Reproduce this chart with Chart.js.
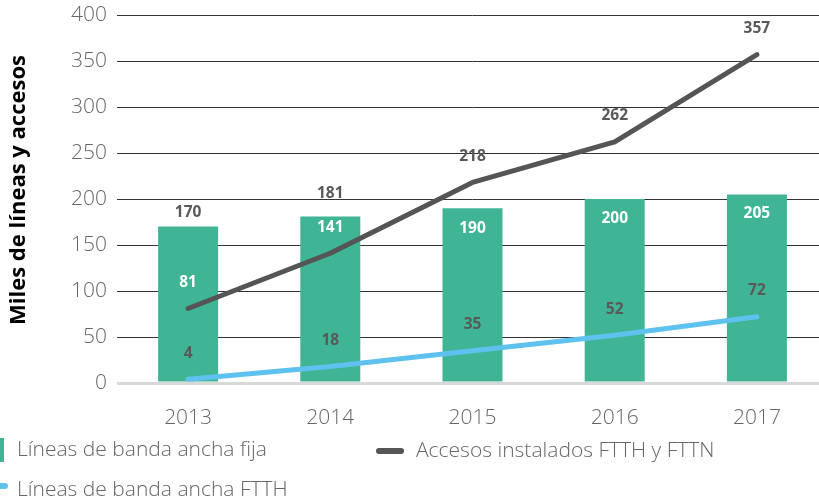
<!DOCTYPE html>
<html>
<head>
<meta charset="utf-8">
<script src="https://cdn.jsdelivr.net/npm/chart.js@4.4.1/dist/chart.umd.min.js"></script>
<style>
  html, body { margin: 0; padding: 0; overflow: hidden; background: #fff; width: 819px; height: 503px; }
  #wrap { width: 830px; height: 503px; }
</style>
</head>
<body>
<div id="wrap"><canvas id="c" width="830" height="503"></canvas></div>
<script>
// ---- data ----
const categories = ['2013', '2014', '2015', '2016', '2017'];
const fixedBroadband = [170, 181, 190, 200, 205];      // Líneas de banda ancha fija
const ftthFttnAccess = [81, 141, 218, 262, 357];       // Accesos instalados FTTH y FTTN
const ftthLines = [4, 18, 35, 52, 72];                 // Líneas de banda ancha FTTH
const yTicks = [0, 50, 100, 150, 200, 250, 300, 350, 400];

const seriesNames = ['Líneas de banda ancha fija', 'Accesos instalados FTTH y FTTN', 'Líneas de banda ancha FTTH'];

// ---- styles ----
const GREEN = '#3fb596';
const DARK = '#555555';
const BLUE = '#5ec1ee';
const LABEL_GRAY = '#595959';
const barLabelOffsets = [-14, -23, 20, 20, 19];
const barLabelColors = [LABEL_GRAY, LABEL_GRAY, '#ffffff', '#ffffff', '#ffffff'];
const darkLabelColors = ['#ffffff', '#ffffff', LABEL_GRAY, LABEL_GRAY, LABEL_GRAY];
const lineLabelOffset = -26;

const labelPlugin = {
  id: 'valueLabels',
  afterDatasetsDraw(chart) {
    const ctx = chart.ctx;
    ctx.save();
    ctx.font = 'bold 15.5px "Open Sans"';
    ctx.textAlign = 'center';
    ctx.textBaseline = 'middle';
    chart.data.datasets.forEach((ds, i) => {
      const meta = chart.getDatasetMeta(i);
      meta.data.forEach((el, j) => {
        let dy, color;
        if (i === 0) { dy = barLabelOffsets[j]; color = barLabelColors[j]; }
        else if (i === 1) { dy = lineLabelOffset; color = darkLabelColors[j]; }
        else { dy = lineLabelOffset; color = LABEL_GRAY; }
        ctx.fillStyle = color;
        ctx.fillText(String(ds.data[j]), el.x, el.y + dy);
      });
    });
    ctx.restore();
  }
};

const decorPlugin = {
  id: 'decor',
  afterDraw(chart) {
    const ctx = chart.ctx;
    ctx.save();
    // y axis title
    ctx.translate(19, 190);
    ctx.rotate(-Math.PI / 2);
    ctx.font = 'bold 22px "Open Sans"';
    ctx.fillStyle = '#000';
    ctx.textAlign = 'center';
    ctx.textBaseline = 'middle';
    ctx.fillText('Miles de líneas y accesos', 0, 0);
    ctx.restore();

    // legend
    ctx.save();
    ctx.font = '300 21px "Open Sans"';
    ctx.textAlign = 'left';
    ctx.textBaseline = 'middle';
    // item 1: bar
    ctx.fillStyle = GREEN;
    ctx.fillRect(0, 438, 4, 24);
    ctx.fillStyle = '#666';
    ctx.fillText(seriesNames[0], 17, 450);
    // item 2: dark line
    ctx.strokeStyle = DARK;
    ctx.lineWidth = 6;
    ctx.lineCap = 'round';
    ctx.beginPath(); ctx.moveTo(379, 451); ctx.lineTo(401, 451); ctx.stroke();
    ctx.fillText(seriesNames[1], 416, 451);
    // item 3: blue line
    ctx.strokeStyle = BLUE;
    ctx.beginPath(); ctx.moveTo(-14, 486); ctx.lineTo(5, 486); ctx.stroke();
    ctx.fillText(seriesNames[2], 17, 490);
    ctx.restore();
  }
};

new Chart(document.getElementById('c'), {
  data: {
    labels: categories,
    datasets: [
      { type: 'bar', label: seriesNames[0], data: fixedBroadband, backgroundColor: GREEN,
        barPercentage: 0.422, categoryPercentage: 1.0, order: 3 },
      { type: 'line', label: seriesNames[1], data: ftthFttnAccess, borderColor: DARK, borderWidth: 5,
        pointRadius: 0, borderCapStyle: 'round', borderJoinStyle: 'round', tension: 0, order: 2 },
      { type: 'line', label: seriesNames[2], data: ftthLines, borderColor: BLUE, borderWidth: 5,
        pointRadius: 0, borderCapStyle: 'round', borderJoinStyle: 'round', tension: 0, order: 1 }
    ]
  },
  options: {
    responsive: false,
    animation: false,
    devicePixelRatio: 1,
    layout: { padding: { top: 15, right: 2, left: 0, bottom: 0 } },
    plugins: { legend: { display: false }, tooltip: { enabled: false } },
    scales: {
      x: {
        offset: true,
        grid: { display: false },
        border: { display: false },
        ticks: { color: '#666', padding: 14, font: { family: 'Open Sans', size: 21, weight: 300 } },
        afterFit(s) { s.height = 120; s.paddingLeft = 0; s.paddingRight = 0; }
      },
      y: {
        min: 0, max: 400,
        afterBuildTicks(s) { s.ticks = yTicks.map(v => ({ value: v })); },
        grid: {
          drawTicks: false,
          color: c => c.tick && c.tick.value === 0 ? '#d9d9d9' : '#333333',
          lineWidth: c => c.tick && c.tick.value === 0 ? 3 : 1
        },
        border: { display: false },
        ticks: { color: '#666', padding: 10, font: { family: 'Open Sans', size: 21, weight: 300 } },
        afterFit(s) { s.width = 117; s.paddingTop = 0; s.paddingBottom = 0; }
      }
    }
  },
  plugins: [labelPlugin, decorPlugin]
});
</script>
</body>
</html>
